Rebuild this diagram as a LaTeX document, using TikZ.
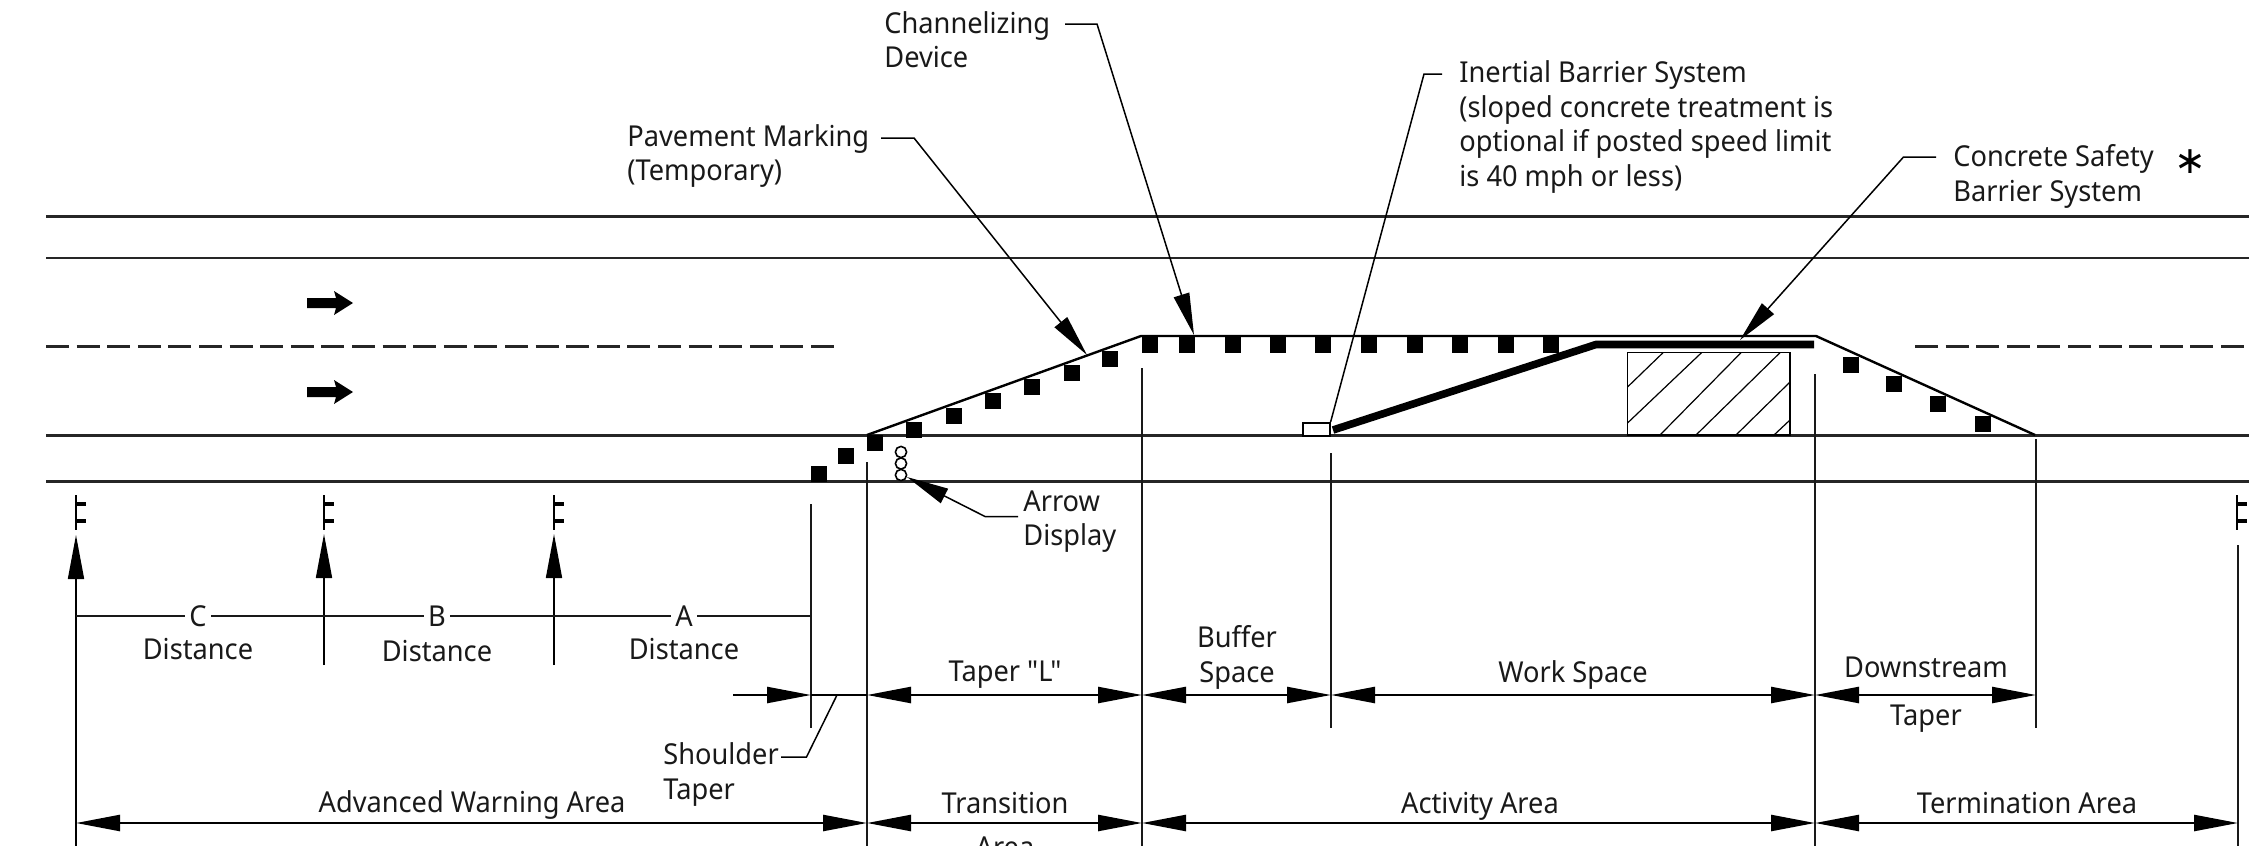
\documentclass[tikz,border=0pt]{standalone}
\usepackage{fontspec}
\newfontfamily\mainf[FakeStretch=0.945]{Noto Sans}
\newfontfamily\symfont{DejaVu Sans}
\usetikzlibrary{arrows.meta}
\tikzset{
 x=0.5pt,y=-0.5pt,
 road/.style={line width=1.1pt,black!85},
 thinl/.style={line width=0.85pt,black!90},
 dim/.style={line width=1.2pt,black,{Triangle[length=22pt,width=8pt]}-{Triangle[length=22pt,width=8pt]}},
 dimr/.style={line width=1.2pt,black,-{Triangle[length=22pt,width=8pt]}},
 lead/.style={line width=0.75pt,black,-{Triangle[length=21pt,width=8pt]}},
 leadn/.style={line width=0.75pt,black},
 up/.style={line width=0.85pt,black,-{Triangle[length=22pt,width=8pt]}},
 lab/.style={font=\mainf\fontsize{14.4}{17}\selectfont,text=black!90,inner sep=0pt,yshift=-4.9pt},
 ctr/.style={lab,anchor=base},
 left/.style={lab,anchor=base west},
 dev/.style={fill=black,draw=none,minimum size=8pt,inner sep=0pt,rectangle},
 circ/.style={draw=black,line width=0.8pt,fill=white,circle,minimum size=5.6pt,inner sep=0pt},
 taperl/.style={line width=1.2pt,black},
 hatchl/.style={line width=0.6pt,black},
 barrier/.style={line width=3.8pt,black,line join=miter},
 post/.style={line width=0.85pt,black},
 tickm/.style={line width=1.8pt,black},
 roadarrow/.style={fill=black,draw=none},
 gapl/.style={font=\mainf\fontsize{14.4}{17}\selectfont,text=black!90,fill=white,inner sep=2pt},
}
\newcommand{\devs}[1]{\foreach \px/\py in {#1}{\node[dev] at (\px,\py) {};}}
\newcommand{\signpost}[1]{\draw[post] (#1,495)--(#1,530);
 \draw[tickm] (#1,503.7)--++(10,0); \draw[tickm] (#1,520.7)--++(10,0);}
\newcommand{\rarrow}[1]{\fill[roadarrow] (307,#1-5)--(336,#1-5)--(334,#1-12)--(353,#1)--(334,#1+12)--(336,#1+5)--(307,#1+5)--cycle;}
\begin{document}
\begin{tikzpicture}
\useasboundingbox (0,0) rectangle (2249,846);
% road
\coordinate (rL1) at (46,216.5); \coordinate (rR1) at (2249,216.5);
\coordinate (rL2) at (46,258); \coordinate (rR2) at (2249,258);
\coordinate (rL3) at (46,435.5); \coordinate (rR3) at (2249,435.5);
\coordinate (rL4) at (46,481.5); \coordinate (rR4) at (2249,481.5);
\draw[road] (rL1)--(rR1); \draw[road] (rL2)--(rR2); \draw[road] (rL3)--(rR3); \draw[road] (rL4)--(rR4);
\coordinate (dL) at (46,346.5); \coordinate (dLe) at (834,346.5);
\coordinate (dR) at (1915,346.5); \coordinate (dRe) at (2249,346.5);
\draw[road,dash pattern=on 11.5pt off 3.8pt] (dL)--(dLe);
\draw[road,dash pattern=on 11.5pt off 3.8pt] (dR)--(dRe);
\rarrow{303}\rarrow{392}
% taper outline
\coordinate (t1) at (867,435); \coordinate (t2) at (1141,336); \coordinate (t3) at (1816,336); \coordinate (t4) at (2035,435);
\draw[taperl] (t1)--(t2)--(t3)--(t4);
% devices
\devs{819/473.5,846/456,875/443,914/430,954/416,993/401,1032/387,1072/373,1110/359,1150/345,1187/345,1233/345,1278/345,1323/345,1369/345,1415/345,1460/345,1506/345,1551/345,1851/365,1894/384,1938/404,1983/424}
% arrow display
\node[circ] (c1) at (901,452) {}; \node[circ] (c2) at (901,463.5) {}; \node[circ] (c3) at (901,475) {};
% work area hatched
\draw[hatchl] (1627.5,352.5) rectangle (1790,435);
\draw[hatchl] (1663,352.7)--(1627.5,387) (1701.5,352.7)--(1627.5,423) (1741,352.7)--(1660,435) (1780,352.7)--(1696,435) (1790,382)--(1736,435) (1790,420)--(1774,435);
% barrier
\coordinate (b1) at (1333,430); \coordinate (b2) at (1596,344.5); \coordinate (b3) at (1814,344.5);
\draw[barrier] (b1)--(b2)--(b3);
\node[draw=black,line width=0.8pt,fill=white,minimum width=13.5pt,minimum height=6.5pt,inner sep=0pt,anchor=north west] (ib) at (1302,422) {};
% verticals
\draw[thinl] (811,504)--(811,728);
\draw[thinl] (867,462)--(867,846);
\draw[thinl] (1142,368)--(1142,846);
\draw[thinl] (1331,453)--(1331,728);
\draw[thinl] (1815,374)--(1815,846);
\draw[thinl] (2036,439)--(2036,728);
\draw[thinl] (2238,545)--(2238,846);
% sign supports
\signpost{76}\signpost{324}\signpost{554}\signpost{2237}
\draw[up] (76,846)--(76,535);
\draw[up] (324,665)--(324,534);
\draw[up] (554,665)--(554,534);
% ABC line
\coordinate (a0) at (76,616); \coordinate (a1) at (811,616);
\draw[thinl] (a0)--(a1);
\node[gapl] (C) at (198,616) {C}; \node[gapl] (B) at (437,616) {B}; \node[gapl] (A) at (684,616) {A};
\node[ctr] (dC) at (198,650) {Distance};
\node[ctr] (dB) at (437,652) {Distance};
\node[ctr] (dA) at (684,650) {Distance};
% mid dimension
\coordinate (m0) at (733,695); \coordinate (m1) at (811,695); \coordinate (m2) at (867,695); \coordinate (m3) at (1142,695); \coordinate (m4) at (1331,695); \coordinate (m5) at (1815,695); \coordinate (m6) at (2036,695);
\draw[dimr] (m0)--(m1); \draw[line width=1.1pt] (m1)--(m2);
\draw[dim] (m2)--(m3); \draw[dim] (m3)--(m4); \draw[dim] (m4)--(m5); \draw[dim] (m5)--(m6);
\node[ctr] (tl) at (1005,672) {Taper "L"};
\node[ctr] (bu) at (1237,638) {Buffer}; \node[ctr] (sp) at (1237,673) {Space};
\node[ctr] (ws) at (1573,673) {Work Space};
\node[ctr] (dn) at (1926,668) {Downstream}; \node[ctr] (dt) at (1926,716) {Taper};
% bottom dimension
\coordinate (e0) at (76,823); \coordinate (e1) at (867,823); \coordinate (e2) at (1142,823); \coordinate (e3) at (1815,823); \coordinate (e4) at (2238,823);
\draw[dim] (e0)--(e1); \draw[dim] (e1)--(e2); \draw[dim] (e2)--(e3); \draw[dim] (e3)--(e4);
\node[ctr] (aw) at (472,803) {Advanced Warning Area};
\node[ctr] (tr) at (1005,804) {Transition}; \node[ctr] (ar) at (1005,848) {Area};
\node[ctr] (ac) at (1480,804) {Activity Area};
\node[ctr] (te) at (2027,804) {Termination Area};
% shoulder
\node[left] (sh) at (663,755) {Shoulder}; \node[left] (st) at (663,790) {Taper};
\coordinate (s1) at (837,695); \coordinate (s2) at (806.5,757); \coordinate (s3) at (781,757);
\draw[leadn] (s1)--(s2)--(s3);
% arrow display label
\node[left] (ad1) at (1023,502) {Arrow}; \node[left] (ad2) at (1023,536) {Display};
\coordinate (ads) at (1018,516.5); \coordinate (adb) at (985,516.5); \coordinate (adt) at (907,477);
\draw[lead] (ads)--(adb)--(adt);
% upper labels
\node[left] (ch1) at (884,24) {Channelizing}; \node[left] (ch2) at (884,58) {Device};
\coordinate (cs) at (1065,24); \coordinate (cb) at (1097,24); \coordinate (ct) at (1194,335);
\draw[lead] (cs)--(cb)--(ct);
\node[left] (pm1) at (627,137) {Pavement Marking}; \node[left] (pm2) at (627,171) {(Temporary)};
\coordinate (ps) at (881,138); \coordinate (pb) at (914,138); \coordinate (pt) at (1087,355);
\draw[lead] (ps)--(pb)--(pt);
\node[left] (i1) at (1459,73) {Inertial Barrier System};
\node[left] (i2) at (1459,108) {(sloped concrete treatment is};
\node[left] (i3) at (1459,142) {optional if posted speed limit};
\node[left] (i4) at (1459,177) {is 40 mph or less)};
\coordinate (is) at (1442,74); \coordinate (ib2) at (1424,74);
\draw[leadn] (is)--(ib2)--(ib.north east);
\node[left] (cc1) at (1953,157) {Concrete Safety}; \node[left] (cc2) at (1953,192) {Barrier System};
\node[font=\symfont\fontsize{19}{19}\selectfont,inner sep=0pt] (star) at (2190,162) {∗};
\coordinate (cos) at (1936,157); \coordinate (cob) at (1903.5,157); \coordinate (cot) at (1740,340);
\draw[lead] (cos)--(cob)--(cot);
\end{tikzpicture}
\end{document}
